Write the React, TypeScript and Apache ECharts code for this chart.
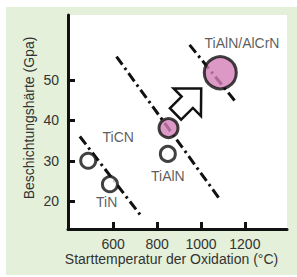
import React, { useEffect, useRef } from "react";
import * as echarts from "echarts";

// Data (x: °C, y: GPa)
const openPoints: [number, number][] = [
  [486, 30],
  [585, 24.2],
  [849, 31.7],
];
const pinkSmall: [number, number][] = [[852, 38.1]];
const pinkLarge: [number, number][] = [[1088, 51.8]];

const trendLine1: [number, number][] = [[448, 36], [729, 16.2]];
const trendLine2: [number, number][] = [[615, 55.8], [1088, 20.3]];
const trendLine3: [number, number][] = [[948, 58.7], [1164, 44.2]];

// arrow: [tailX, tailY, tipX, tipY]
const arrowData: number[][] = [[884, 41.6, 1001, 47.9]];

const labelNames = ["TiAlN/AlCrN", "TiCN", "TiAlN", "TiN"];
const labelPos: [number, number][] = [
  [1187, 59.1],
  [623, 35.9],
  [849, 26.3],
  [570, 19.9],
];

const xTicks = [600, 800, 1000, 1200];
const yTicks = [20, 30, 40, 50];

const FONT = "'Liberation Sans', Arial, Helvetica, sans-serif";
const TEXT = "#333333";
const PINK = "#d47fb7";

export default function App() {
  const ref = useRef<HTMLDivElement>(null);
  useEffect(() => {
    if (!ref.current) return;
    const chart = echarts.init(ref.current, null, { renderer: "svg" });
    const dashDot = [10, 4, 2.5, 4];
    const lineSeries = (d: [number, number][]) => ({
      type: "line",
      data: d,
      symbol: "none",
      silent: true,
      z: 2,
      lineStyle: { color: "#111", width: 3, type: dashDot, cap: "butt" },
    });
    chart.setOption({
      animation: false,
      textStyle: { fontFamily: FONT },
      graphic: [
        {
          type: "rect",
          z: -10,
          shape: { x: 6, y: 7, width: 291, height: 268 },
          style: { fill: "#e4f0d9" },
        },
      ],
      grid: {
        left: 68,
        right: 10,
        top: 15,
        bottom: 48,
        show: true,
        backgroundColor: "#ffffff",
        borderWidth: 0,
      },
      xAxis: {
        type: "value",
        min: 394,
        max: 1392,
        name: "Starttemperatur der Oxidation (°C)",
        nameLocation: "middle",
        nameGap: 23,
        nameMoveOverlap: false,
        nameTextStyle: { fontSize: 14, color: TEXT, fontFamily: FONT, padding: [0, 12, 0, 0] },
        axisLine: { show: true, lineStyle: { color: "#111", width: 3 } },
        axisTick: { show: true, inside: true, length: 7, customValues: xTicks, lineStyle: { color: "#111", width: 3 } },
        axisLabel: {
          customValues: xTicks,
          formatter: (v: number) => String(v),
          fontSize: 14,
          color: TEXT,
          margin: 8,
          fontFamily: FONT,
        },
        splitLine: { show: false },
      },
      yAxis: {
        type: "value",
        min: 13.1,
        max: 66.1,
        name: "Beschichtungshärte (Gpa)",
        nameLocation: "middle",
        nameGap: 32,
        nameMoveOverlap: false,
        nameTextStyle: { fontSize: 14, color: TEXT, fontFamily: FONT, padding: [0, 0, 0, 8] },
        axisLine: { show: true, lineStyle: { color: "#111", width: 3 } },
        axisTick: { show: true, inside: true, length: 7, customValues: yTicks, lineStyle: { color: "#111", width: 3 } },
        axisLabel: {
          customValues: yTicks,
          formatter: (v: number) => String(v),
          fontSize: 14,
          color: TEXT,
          margin: 9,
          fontFamily: FONT,
        },
        splitLine: { show: false },
      },
      series: [
        lineSeries(trendLine1),
        lineSeries(trendLine2),
        lineSeries(trendLine3),
        {
          type: "custom",
          z: 3,
          silent: true,
          data: arrowData,
          renderItem: (params: any, api: any) => {
            const tail = api.coord([api.value(0), api.value(1)]);
            const tip = api.coord([api.value(2), api.value(3)]);
            const dx = tip[0] - tail[0];
            const dy = tip[1] - tail[1];
            const len = Math.sqrt(dx * dx + dy * dy);
            const ux = dx / len, uy = dy / len;
            const nx = -uy, ny = ux;
            const headLen = 19.6, headW = 19.4, shaftW = 8;
            const bx = tip[0] - ux * headLen, by = tip[1] - uy * headLen;
            const pts = [
              [tail[0] + nx * shaftW, tail[1] + ny * shaftW],
              [bx + nx * shaftW, by + ny * shaftW],
              [bx + nx * headW, by + ny * headW],
              [tip[0], tip[1]],
              [bx - nx * headW, by - ny * headW],
              [bx - nx * shaftW, by - ny * shaftW],
              [tail[0] - nx * shaftW, tail[1] - ny * shaftW],
            ];
            return {
              type: "polygon",
              shape: { points: pts },
              style: { fill: "#ffffff", stroke: "#111", lineWidth: 2.5, lineJoin: "miter" },
            };
          },
        },
        {
          type: "scatter",
          z: 4,
          data: openPoints,
          symbol: "circle",
          symbolSize: 15,
          itemStyle: { color: "#ffffff", borderColor: "#111", borderWidth: 3 },
        },
        {
          type: "scatter",
          z: 4,
          data: pinkSmall,
          symbol: "circle",
          symbolSize: 19,
          itemStyle: { color: PINK, borderColor: "#111", borderWidth: 3 },
        },
        {
          type: "scatter",
          z: 4,
          data: pinkLarge,
          symbol: "circle",
          symbolSize: 32,
          itemStyle: { color: PINK, borderColor: "#111", borderWidth: 3 },
        },
        {
          type: "scatter",
          z: 5,
          silent: true,
          symbolSize: 0,
          data: labelPos.map((p, i) => ({ value: p, name: labelNames[i] })),
          label: {
            show: true,
            position: "inside",
            formatter: (p: any) => p.name,
            fontSize: 14,
            color: TEXT,
            fontFamily: FONT,
          },
        },
      ],
    });
    return () => chart.dispose();
  }, []);
  return (
    <div
      ref={ref}
      style={{ position: "fixed", left: 0, top: 0, width: 297, height: 277, background: "#ffffff" }}
    />
  );
}
